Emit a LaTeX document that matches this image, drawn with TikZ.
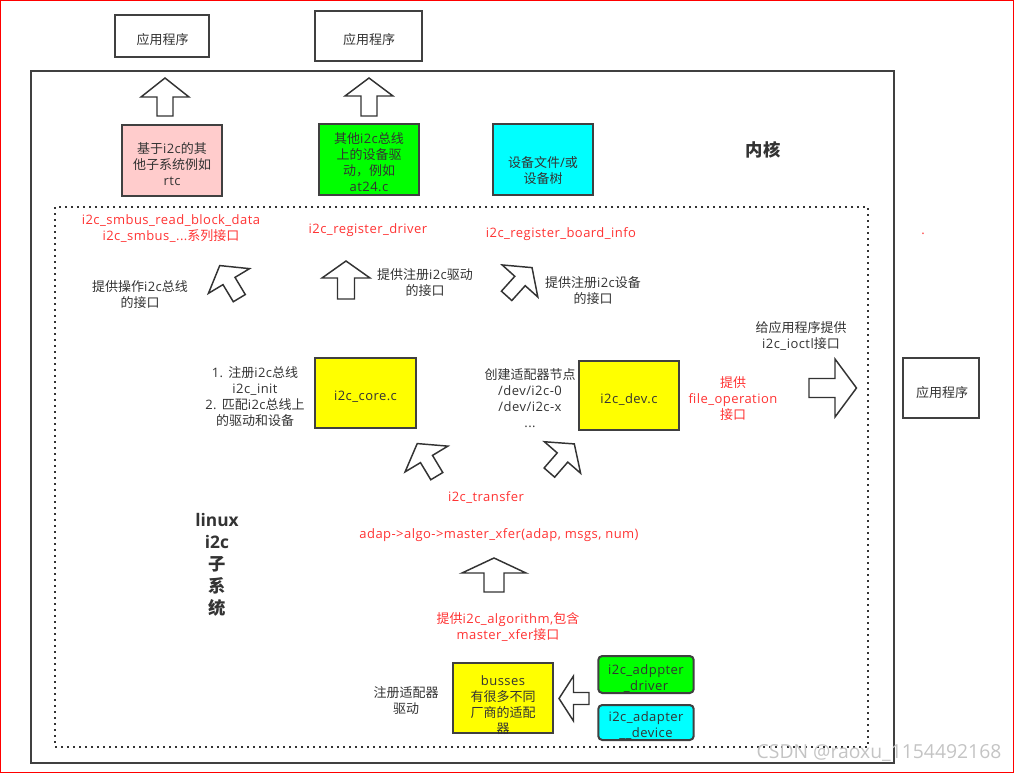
\documentclass[tikz,border=0pt]{standalone}
\usepackage{fontspec}
\setmainfont{Open Sans}[LetterSpace=3.5]
\newfontfamily\cjkfont{Noto Sans CJK SC}
\newfontfamily\wmfont{Open Sans}
\XeTeXinterchartokenstate=1
\newXeTeXintercharclass\CJKcls
\newcount\cjkcnt
\cjkcnt="3000
\loop\ifnum\cjkcnt<"A000 \XeTeXcharclass\cjkcnt=\CJKcls \advance\cjkcnt by 1 \repeat
\cjkcnt="FF00
\loop\ifnum\cjkcnt<"FFF0 \XeTeXcharclass\cjkcnt=\CJKcls \advance\cjkcnt by 1 \repeat
\XeTeXinterchartoks 0 \CJKcls={\begingroup\cjkfont}
\XeTeXinterchartoks 4095 \CJKcls={\begingroup\cjkfont}
\XeTeXinterchartoks \CJKcls 0={\endgroup}
\XeTeXinterchartoks \CJKcls 4095={\endgroup}
\definecolor{textc}{HTML}{333333}
\definecolor{redc}{HTML}{FF3333}
\definecolor{linec}{HTML}{404040}
\definecolor{pinkc}{HTML}{FFCCCC}
\definecolor{greenc}{HTML}{00FF00}
\definecolor{cyanc}{HTML}{00FFFF}
\definecolor{yellowc}{HTML}{FFFF00}
\definecolor{wmc}{HTML}{C4C4C4}
\tikzset{
  box/.style={draw=linec, line width=1.5pt, inner sep=0pt},
  txt/.style={inner sep=0pt, align=center, text=textc, yshift=-1.5pt},
  rtxt/.style={txt, text=redc},
  btxt/.style={txt, font=\fontsize{13}{16.5}\wmfont\bfseries},
  arrline/.style={draw=textc, line width=1.1pt, fill=white, line join=miter},
  pics/barrow/.style args={#1/#2/#3/#4}{code={
    \draw[arrline] (0,-#1) -- (#2,0) -- (#3,0) -- (#3,#4) -- (-#3,#4) -- (-#3,0) -- (-#2,0) -- cycle;}}
}
\begin{document}
\begin{tikzpicture}[x=0.75pt,y=-0.75pt,font=\fontsize{9.75}{12}\selectfont]
\useasboundingbox (0,0) rectangle (1015,774);
\draw[red, line width=0.75pt] (0.5,0.5) rectangle (1013.5,772.5);
% kernel frame and subsystem frame
\draw[draw=linec, line width=1.5pt] (31,71) rectangle (894,763);
\draw[draw=textc, line width=1.5pt, dash pattern=on 1.5pt off 3pt] (55,207) rectangle (868,747);
% application boxes
\node[box, minimum width=70.5pt, minimum height=31.5pt] (app1) at (162,36) {};
\node[txt] (app1t) at (162.5,37.5) {应用程序};
\node[box, minimum width=80.25pt, minimum height=37.5pt] (app2) at (368.5,36) {};
\node[txt] (app2t) at (369,37.5) {应用程序};
\node[box, minimum width=57pt, minimum height=45pt] (app3) at (941,388) {};
\node[txt] (app3t) at (942,391) {应用程序};
% upper row boxes
\node[box, fill=pinkc, minimum width=75pt, minimum height=53.25pt] (rtc) at (172,160.5) {};
\node[txt] (rtct) at (172,162) {基于i2c的其\\他子系统例如\\rtc};
\node[box, fill=greenc, minimum width=75pt, minimum height=53.25pt] (at24) at (369,159.5) {};
\node[txt] (at24t) at (369,160.5) {其他i2c总线\\上的设备驱\\动，例如\\at24.c};
\node[box, fill=cyanc, minimum width=75pt, minimum height=53.25pt] (dts) at (543,159.5) {};
\node[txt] (dtst) at (543,169) {设备文件/或\\设备树};
\node[btxt] (kernel) at (763,148) {内核};
% red interface labels
\node[rtxt] (smbus) at (171,227) {i2c\_smbus\_read\_block\_data\\i2c\_smbus\_...系列接口};
\node[rtxt] (regdrv) at (368,228) {i2c\_register\_driver};
\node[rtxt] (regbi) at (561,232) {i2c\_register\_board\_info};
\node[rtxt] (dot) at (923,232) {.};
% descriptions
\node[txt] (opbus) at (140,293) {提供操作i2c总线\\的接口};
\node[txt] (regdrvt) at (425,281) {提供注册i2c驱动\\的接口};
\node[txt] (regdevt) at (593,289) {提供注册i2c设备\\的接口};
\node[txt] (ioctl) at (801,334) {给应用程序提供\\i2c\_ioctl接口};
\node[txt] (coret) at (255,394.5) {1. 注册i2c总线\\i2c\_init\\2. 匹配i2c总线上\\的驱动和设备};
\node[txt] (devt) at (530,396) {创建适配器节点\\/dev/i2c-0\\/dev/i2c-x\\...};
\node[rtxt] (fops) at (733,397) {提供\\file\_operation\\接口};
% core boxes
\node[box, fill=yellowc, minimum width=75.75pt, minimum height=52.5pt] (core) at (365.5,393) {};
\node[txt] (coretx) at (365.5,395) {i2c\_core.c};
\node[box, fill=yellowc, minimum width=75pt, minimum height=51.75pt] (dev) at (629,395.5) {};
\node[txt] (devtx) at (629,398) {i2c\_dev.c};
% lower part
\node[btxt] (linux) at (217,562.5) {linux\\i2c\\子\\系\\统};
\node[rtxt] (xfer) at (486,496) {i2c\_transfer};
\node[rtxt] (algo) at (499,533) {adap->algo->master\_xfer(adap, msgs, num)};
\node[rtxt] (algot) at (508,625.5) {提供i2c\_algorithm,包含\\master\_xfer接口};
\node[txt] (regad) at (406,699) {注册适配器\\驱动};
\node[box, fill=yellowc, minimum width=75.5pt, minimum height=52.5pt] (busses) at (503,698) {};
\node[txt] (busst) at (503,703.5) {busses\\有很多不同\\厂商的适配\\器};
\node[box, fill=greenc, rounded corners=3pt, minimum width=71.6pt, minimum height=27.75pt] (adrv) at (646,674.5) {};
\node[txt] (adrvt) at (646,676.5) {i2c\_adppter\\\_driver};
\node[box, fill=cyanc, rounded corners=3pt, minimum width=71.6pt, minimum height=26.25pt] (adev) at (646,722.5) {};
\node[txt] (adevt) at (646,723.5) {i2c\_adapter\\\_\_device};
% block arrows
\pic (a1) at (165,97) {barrow=19/24/8/19};
\pic (a2) at (369,96) {barrow=18/24/8/20};
\pic[rotate=31] (a3) at (229,281) {barrow=18/24/7/20};
\pic (a4) at (346,278) {barrow=17/24/8.5/21};
\pic[rotate=-42] (a5) at (520,281) {barrow=18/24/7/20};
\pic[rotate=31] (a6) at (426.5,459) {barrow=18/25/7/20};
\pic[rotate=-41] (a7) at (562.5,457.5) {barrow=18/24/7/20};
\pic (a8) at (494,573) {barrow=15/32/10/19};
\pic[rotate=-90] (a9) at (835,388) {barrow=21.5/29/9.5/26};
\pic[rotate=90] (a10) at (573.5,698.5) {barrow=14.5/22.5/6/15.5};
% watermark
\node[inner sep=0pt, text=wmc, font=\fontsize{14.5}{16}\wmfont] (wm) at (879,753) {CSDN @raoxu\_1154492168};
\end{tikzpicture}
\end{document}
